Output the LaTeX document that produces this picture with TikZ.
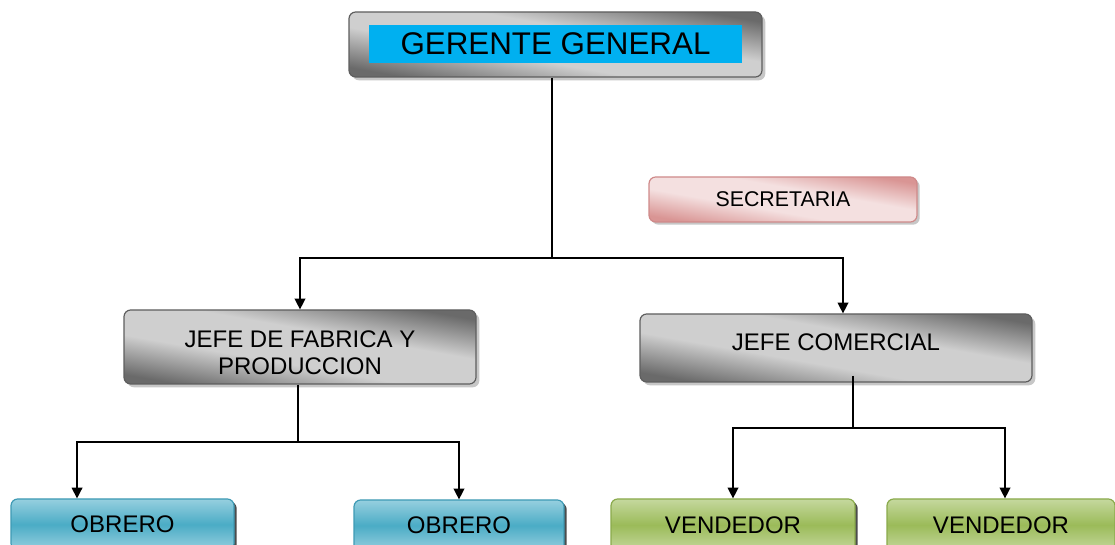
\documentclass[tikz,border=0pt]{standalone}
\usepackage{fontspec}
\setmainfont{Liberation Sans}
\usetikzlibrary{arrows.meta, shadows, positioning}
\definecolor{grisosc}{HTML}{6A6A6A}
\definecolor{grisclaro}{HTML}{CFCFCF}
\definecolor{grisborde}{HTML}{5E5E5E}
\definecolor{cian}{HTML}{00B0F0}
\definecolor{rosaosc}{HTML}{D99594}
\definecolor{rosaclaro}{HTML}{F4E0E0}
\definecolor{rosaborde}{HTML}{CF8A8A}
\definecolor{azulmed}{HTML}{4BACC6}
\definecolor{azulclaro}{HTML}{96CFDF}
\definecolor{azulborde}{HTML}{3E9AB4}
\definecolor{verdemed}{HTML}{9BBB59}
\definecolor{verdeclaro}{HTML}{C5D89E}
\definecolor{verdeborde}{HTML}{8AAA4C}
\pgfdeclareverticalshading{brillo}{100bp}{color(0bp)=(grisosc); color(25bp)=(grisosc); color(42bp)=(grisclaro); color(58bp)=(grisclaro); color(75bp)=(grisosc); color(100bp)=(grisosc)}
\pgfdeclareverticalshading{brillorosa}{100bp}{color(0bp)=(rosaosc); color(25bp)=(rosaosc); color(42bp)=(rosaclaro); color(58bp)=(rosaclaro); color(75bp)=(rosaosc); color(100bp)=(rosaosc)}
\tikzset{
    caja/.style={rectangle, rounded corners=5pt, line width=0.9pt, text centered, font=\fontsize{18}{19.5}\selectfont},
    jefe/.style={caja, draw=grisborde, shading=brillo, shading angle=-10,
        drop shadow={shadow xshift=2.5pt, shadow yshift=-2.5pt, fill=black!22, opacity=1}},
    titulo/.style={rectangle, fill=cian, inner sep=0pt, font=\fontsize{23.5}{26}\selectfont},
    secre/.style={caja, draw=rosaborde, shading=brillorosa, shading angle=-10,
        font=\fontsize{16}{18}\selectfont, drop shadow={shadow xshift=2pt, shadow yshift=-2pt, fill=black!22, opacity=1}},
    obrero/.style={caja, draw=azulborde, top color=azulclaro, bottom color=azulclaro, middle color=azulmed, minimum height=38.25pt,
        drop shadow={shadow xshift=2pt, shadow yshift=-2pt, fill=black!70, opacity=1}},
    vendedor/.style={caja, draw=verdeborde, top color=verdeclaro, bottom color=verdeclaro, middle color=verdemed, minimum height=39pt,
        drop shadow={shadow xshift=2pt, shadow yshift=-2pt, fill=black!70, opacity=1}},
    linea/.style={line width=1pt},
    flecha/.style={line width=1pt, -{Triangle[length=8pt, width=8pt]}}
}
\begin{document}
\begin{tikzpicture}[x=0.75pt, y=-0.75pt]
    \useasboundingbox (0,0) rectangle (1115,545);
    \node (gerente) [jefe, minimum width=309.75pt, minimum height=48.75pt] at (555.5,44.5) {};
    \node (gerentetxt) [titulo, minimum width=279.75pt, minimum height=28.5pt] at (555.5,44) {GERENTE GENERAL};
    \node (secretaria) [secre, minimum width=201pt, minimum height=33.75pt] at (783,199.5) {SECRETARIA};
    \node (fabrica) [jefe, minimum width=264pt, minimum height=55.5pt, align=center] at (300,347) {\raisebox{-4.5pt}[\height][\depth]{JEFE DE FABRICA Y}\\[1pt]\raisebox{-4.5pt}[\height][\depth]{PRODUCCION}};
    \node (comercial) [jefe, minimum width=294pt, minimum height=51pt] at (836,348) {\raisebox{4.5pt}[\height][\depth]{JEFE COMERCIAL}};
    \node (obrero1) [obrero, minimum width=167.25pt] at (122.5,524.5) {OBRERO};
    \node (obrero2) [obrero, minimum width=157.5pt] at (459,525.5) {OBRERO};
    \node (vendedor1) [vendedor, minimum width=183pt] at (733,525) {VENDEDOR};
    \node (vendedor2) [vendedor, minimum width=171pt] at (1001,525) {VENDEDOR};

    \coordinate (bus1) at (552,258);
    \coordinate (bus2) at (298,442);
    \coordinate (bus3) at (853,428);
    \coordinate (com3) at (853,376);

    \draw [linea] (gerente.south -| bus1) -- (bus1);
    \draw [flecha] (bus1) -| (fabrica.north);
    \draw [flecha] (bus1) -| ([xshift=5.25pt]comercial.north);
    \draw [linea] (fabrica.south -| bus2) -- (bus2);
    \draw [flecha] (bus2) -| ([xshift=-34.1pt]obrero1.north);
    \draw [flecha] (bus2) -| (obrero2.north);
    \draw [linea] (com3) -- (bus3);
    \draw [flecha] (bus3) -| (vendedor1.north);
    \draw [flecha] (bus3) -| ([xshift=3pt]vendedor2.north);
\end{tikzpicture}
\end{document}
